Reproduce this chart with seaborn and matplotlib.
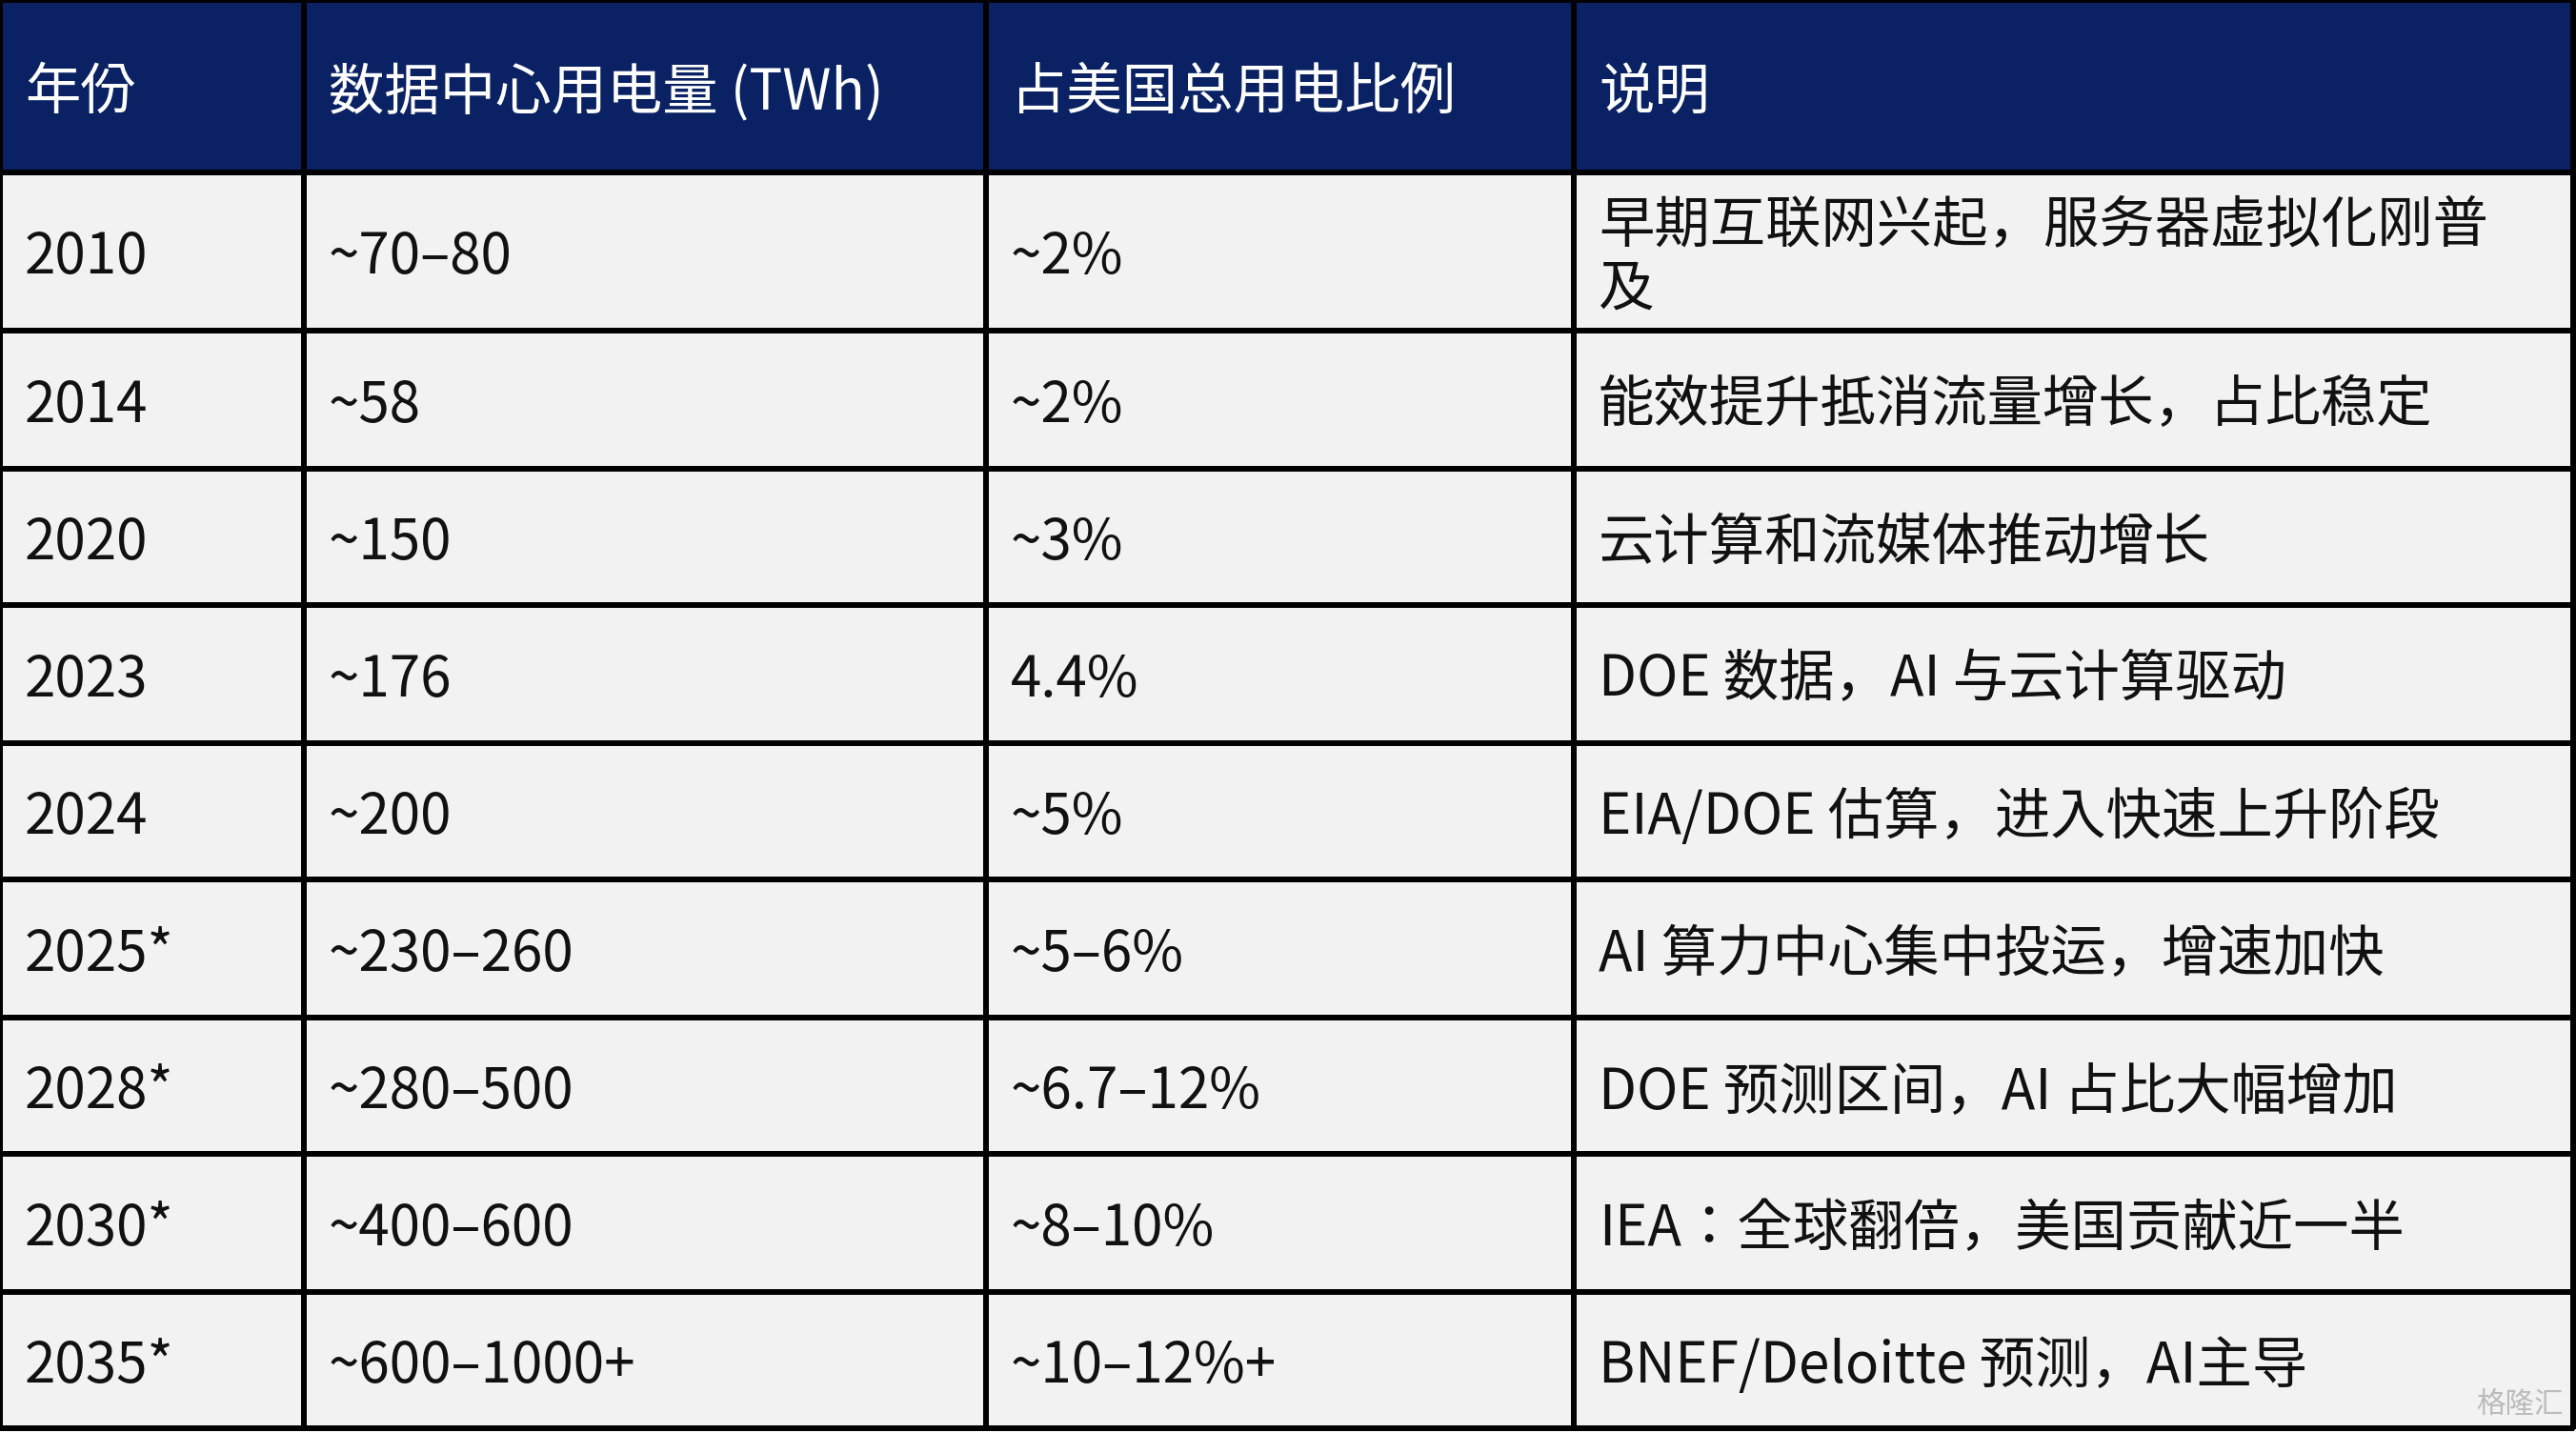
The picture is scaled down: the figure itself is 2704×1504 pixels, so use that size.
import glob, os
import numpy as np
import seaborn as sns
import matplotlib.pyplot as plt
from matplotlib import font_manager as fm
from matplotlib.colors import ListedColormap

sns.set_theme(style="white")

cands = []
for d in ["/usr/share/fonts", "/usr/local/share/fonts", os.path.expanduser("~/.fonts"), "/opt"]:
    cands += glob.glob(os.path.join(d, "**", "*CJK*"), recursive=True)
cands += [f for f in fm.findSystemFonts() if "CJK" in f or "cjk" in f.lower()]
pick = None
for pref in ["SC", "CJKsc", "CJK-Regular", "CJK"]:
    for f in sorted(cands):
        if pref in os.path.basename(f) and "Bold" not in f and f.lower().endswith((".otf", ".ttf", ".ttc")):
            pick = f
            break
    if pick:
        break
fp = fm.FontProperties(fname=pick, size=21) if pick else fm.FontProperties(family="Noto Sans CJK SC", size=21)

headers = ["年份", "数据中心用电量 (TWh)", "占美国总用电比例", "说明"]
years = ["2010", "2014", "2020", "2023", "2024", "2025*", "2028*", "2030*", "2035*"]
usage = ["~70–80", "~58", "~150", "~176", "~200", "~230–260", "~280–500", "~400–600", "~600–1000+"]
share = ["~2%", "~2%", "~3%", "4.4%", "~5%", "~5–6%", "~6.7–12%", "~8–10%", "~10–12%+"]
notes = ["早期互联网兴起，服务器虚拟化刚普\n及", "能效提升抵消流量增长，占比稳定", "云计算和流媒体推动增长",
         "DOE 数据，AI 与云计算驱动", "EIA/DOE 估算，进入快速上升阶段", "AI 算力中心集中投运，增速加快",
         "DOE 预测区间，AI 占比大幅增加", "IEA：全球翻倍，美国贡献近一半", "BNEF/Deloitte 预测，AI主导"]

col_edges = np.array([0, 185, 600, 958, 1566])
row_edges = np.array([0, 105, 201, 285, 368, 452, 535, 619, 702, 786, 869])

fig = plt.figure(figsize=(13.52, 7.52), dpi=200)
ax = fig.add_axes([0, 0, 1, 1])
kind = np.ones((len(row_edges) - 1, len(col_edges) - 1))
kind[0, :] = 0
cmap = ListedColormap(["#0a2263", "#f2f2f2"])
ax.pcolormesh(col_edges, row_edges, kind, cmap=cmap, vmin=0, vmax=1,
              edgecolors="black", linewidth=1.6)
ax.set_xlim(0, 1568)
ax.set_ylim(872, 0)
ax.axis("off")

dy = 4
for j, h in enumerate(headers):
    ax.text(col_edges[j] + 15, (row_edges[0] + row_edges[1]) / 2 + dy, h, color="white",
            fontproperties=fp, va="center", ha="left")
cols = [years, usage, share, notes]
for i in range(len(years)):
    yc = (row_edges[i + 1] + row_edges[i + 2]) / 2 + dy
    for j, c in enumerate(cols):
        ax.text(col_edges[j] + 15, yc, c[i], color="#111111", fontproperties=fp,
                va="center", ha="left", linespacing=1.1)

fp2 = fp.copy(); fp2.set_size(11)
ax.text(1560, 855, "格隆汇", color="#bbbbbb", fontproperties=fp2, ha="right", va="center")
fig.savefig("out.png", dpi=200)
